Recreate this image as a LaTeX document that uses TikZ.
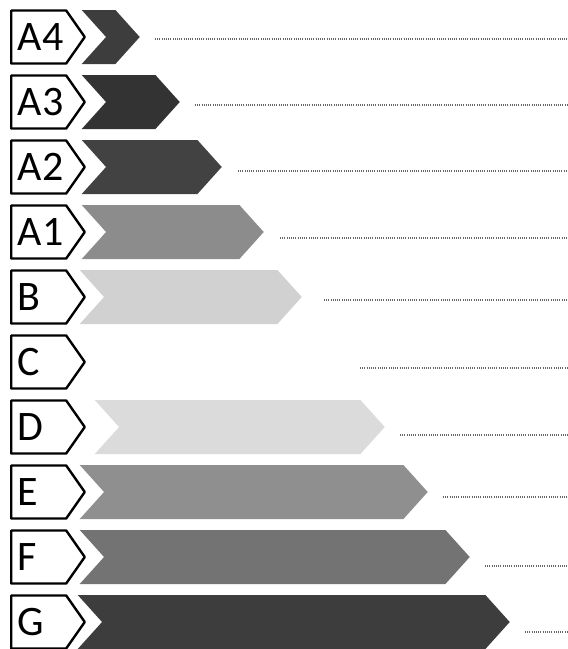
\documentclass[tikz,border=0pt]{standalone}
\usepackage{fontspec}
\setmainfont{Carlito}
\usetikzlibrary{shapes.symbols}
\definecolor{barAfour}{gray}{0.24}
\definecolor{barAthree}{gray}{0.20}
\definecolor{barAtwo}{gray}{0.26}
\definecolor{barAone}{gray}{0.55}
\definecolor{barB}{gray}{0.82}
\definecolor{barD}{gray}{0.86}
\definecolor{barE}{gray}{0.56}
\definecolor{barF}{gray}{0.45}
\definecolor{barG}{gray}{0.24}
\begin{document}
\begin{tikzpicture}[x=1pt,y=-1pt,
	classbox/.style={signal, signal to=east, signal pointer angle=110, draw, line width=2.4pt,
		line join=round, minimum height=53pt, text width=42pt, align=left, inner xsep=6.5pt,
		inner ysep=0pt, font=\fontsize{42}{42}\selectfont, anchor=west},
	classbar/.style={signal, signal from=west, signal to=east, signal pointer angle=96,
		minimum height=54pt, inner sep=0pt, anchor=east},
	leader/.style={black!60, line width=1.2pt, dash pattern=on 1pt off 1.2pt}]
\useasboundingbox (0,0) rectangle (568,649);
% class boxes
\node[classbox] (lA4) at (10,37) {A4};
\node[classbox] (lA3) at (10,102) {A3};
\node[classbox] (lA2) at (10,167) {A2};
\node[classbox] (lA1) at (10,232) {A1};
\node[classbox] (lB) at (10,297) {B};
\node[classbox] (lC) at (10,362) {C};
\node[classbox] (lD) at (10,427) {D};
\node[classbox] (lE) at (10,492) {E};
\node[classbox] (lF) at (10,557) {F};
\node[classbox] (lG) at (10,622) {G};
% bars
\node[classbar, fill=barAfour, minimum width=58pt] (bA4) at (140,37) {};
\node[classbar, fill=barAthree, minimum width=98pt] (bA3) at (180,102) {};
\node[classbar, fill=barAtwo, minimum width=140pt] (bA2) at (222,167) {};
\node[classbar, fill=barAone, minimum width=182pt] (bA1) at (264,232) {};
\node[classbar, fill=barB, minimum width=222pt] (bB) at (302,297) {};
\node[classbar, minimum width=262pt] (bC) at (344,362) {};
\node[classbar, fill=barD, minimum width=290pt] (bD) at (385,427) {};
\node[classbar, fill=barE, minimum width=348pt] (bE) at (428,492) {};
\node[classbar, fill=barF, minimum width=390pt] (bF) at (470,557) {};
\node[classbar, fill=barG, minimum width=432pt] (bG) at (510,622) {};
% leaders to the right edge
\coordinate (eA4) at (568,39);
\coordinate (eA3) at (568,105);
\coordinate (eA2) at (568,171);
\coordinate (eA1) at (568,238);
\coordinate (eB) at (568,300);
\coordinate (eC) at (568,368);
\coordinate (eD) at (568,435);
\coordinate (eE) at (568,497);
\coordinate (eF) at (568,566);
\coordinate (eG) at (568,632);
\draw[leader] ([xshift=15pt,yshift=-2pt]bA4.east) -- (eA4);
\draw[leader] ([xshift=15pt,yshift=-3pt]bA3.east) -- (eA3);
\draw[leader] ([xshift=16pt,yshift=-4pt]bA2.east) -- (eA2);
\draw[leader] ([xshift=16pt,yshift=-6pt]bA1.east) -- (eA1);
\draw[leader] ([xshift=22pt,yshift=-3pt]bB.east) -- (eB);
\draw[leader] ([xshift=16pt,yshift=-6pt]bC.east) -- (eC);
\draw[leader] ([xshift=15pt,yshift=-8pt]bD.east) -- (eD);
\draw[leader] ([xshift=15pt,yshift=-5pt]bE.east) -- (eE);
\draw[leader] ([xshift=15pt,yshift=-9pt]bF.east) -- (eF);
\draw[leader] ([xshift=15pt,yshift=-10pt]bG.east) -- (eG);
\end{tikzpicture}
\end{document}
